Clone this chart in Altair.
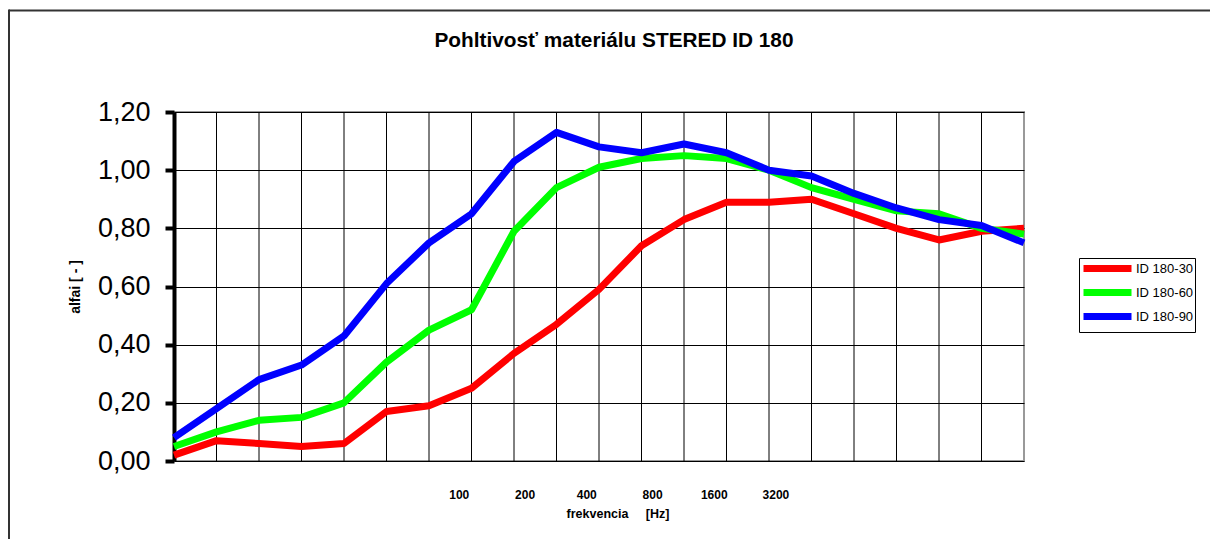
import altair as alt
import pandas as pd

# ---- data ----
points = list(range(21))
series_names = ["ID 180-30", "ID 180-60", "ID 180-90"]
series_colors = ["#FF0000", "#00FF00", "#0000FF"]
red_vals = [0.02, 0.07, 0.06, 0.05, 0.06, 0.17, 0.19, 0.25, 0.37, 0.47, 0.59,
            0.74, 0.83, 0.89, 0.89, 0.90, 0.85, 0.80, 0.76, 0.79, 0.80]
green_vals = [0.05, 0.10, 0.14, 0.15, 0.20, 0.34, 0.45, 0.52, 0.79, 0.94, 1.01,
              1.04, 1.05, 1.04, 1.00, 0.94, 0.90, 0.86, 0.85, 0.80, 0.78]
blue_vals = [0.08, 0.18, 0.28, 0.33, 0.43, 0.61, 0.75, 0.85, 1.03, 1.13, 1.08,
             1.06, 1.09, 1.06, 1.00, 0.98, 0.92, 0.87, 0.83, 0.81, 0.75]
freq_labels = ["100", "200", "400", "800", "1600", "3200"]
freq_label_pos = [6.7, 8.25, 9.7, 11.25, 12.7, 14.15]
y_ticks = [0.0, 0.2, 0.4, 0.6, 0.8, 1.0, 1.2]
grid_pos = list(range(1, 20))

rows = []
for name, vals in zip(series_names, [red_vals, green_vals, blue_vals]):
    for i, v in zip(points, vals):
        rows.append({"i": i, "v": v, "s": name})
df = pd.DataFrame(rows)
grid_df = pd.DataFrame({"i": grid_pos})

FONT = "Liberation Sans"
W, H = 850, 349

label_expr = "[" + ",".join("'%s'" % l for l in freq_labels) + "][indexof([" + \
    ",".join(str(p) for p in freq_label_pos) + "], datum.value)]"

x_scale = alt.Scale(domain=[0, 20], nice=False, zero=False)
y_scale = alt.Scale(domain=[0, 1.2], nice=False)

x_axis = alt.Axis(
    values=freq_label_pos, labelExpr=label_expr, ticks=False, tickSize=0,
    domain=False, grid=False, labelPadding=28, labelFont=FONT, labelFontSize=12,
    labelFontWeight="bold", labelColor="black", labelOverlap=False,
    title="frekvencia\u00a0\u00a0\u00a0\u00a0\u00a0[Hz]", titleFont=FONT,
    titleFontSize=12.5, titleFontWeight="bold", titleColor="black",
    titleX=443.5, titleY=56, titleBaseline="alphabetic", titleAlign="center",
)
y_axis = alt.Axis(
    values=y_ticks, labelExpr="replace(format(datum.value, '.2f'), '.', ',')",
    title="alfai [ - ]", titleFont=FONT, titleFontSize=14, titleFontWeight="bold",
    titleColor="black", titlePadding=15,
    labelFont=FONT, labelFontSize=27, labelColor="black", labelPadding=15,
    tickSize=9, tickWidth=4, tickColor="black",
    domainColor="black", domainWidth=4,
    grid=True, gridColor="black", gridWidth=1, gridOpacity=1,
)

grid = alt.Chart(grid_df).mark_rule(color="black", strokeWidth=1).encode(
    x=alt.X("i:Q", scale=x_scale, axis=x_axis),
    y=alt.datum(0, scale=y_scale),
    y2=alt.datum(1.2),
)

lines = alt.Chart(df).mark_line(strokeWidth=7, strokeJoin="round").encode(
    x=alt.X("i:Q", scale=x_scale, axis=x_axis),
    y=alt.Y("v:Q", scale=y_scale, axis=y_axis),
    color=alt.Color(
        "s:N",
        scale=alt.Scale(domain=series_names, range=series_colors),
        sort=series_names,
        legend=alt.Legend(
            title=None, orient="none", legendX=905, legendY=146,
            symbolType="M-1,0H7", symbolSize=144, symbolStrokeWidth=7,
            labelFont=FONT, labelFontSize=13, labelColor="black", labelOffset=37,
            strokeColor="black", fillColor="white", padding=1, rowPadding=-7.5,
        ),
    ),
)

frame_df = pd.DataFrame({"k": [0]})
frame_top = alt.Chart(frame_df).mark_rule(color="#333333", strokeWidth=2).encode(
    x=alt.value(-165), x2=alt.value(1036), y=alt.value(-101.5)
)
frame_left = alt.Chart(frame_df).mark_rule(color="#333333", strokeWidth=2).encode(
    x=alt.value(-165), y=alt.value(-102.5), y2=alt.value(427)
)

chart = alt.layer(grid, lines, frame_top, frame_left).properties(
    width=W, height=H, padding=0, background="white",
    title=alt.Title(
        "Pohltivosť materiálu STERED ID 180", font=FONT, fontSize=20.8,
        fontWeight="bold", color="black", frame="group", anchor="middle",
        dx=15, offset=-59, baseline="alphabetic",
    ),
).configure_view(stroke="#999999", strokeWidth=2)

chart.save("out.html", embed_options={"renderer": "svg", "actions": False})
